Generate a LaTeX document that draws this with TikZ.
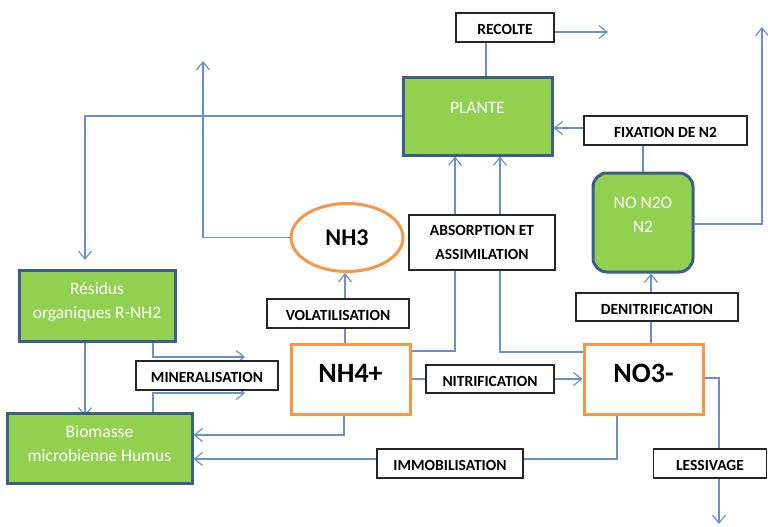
\documentclass[tikz,border=0pt]{standalone}
\usepackage{fontspec}
\setmainfont{Carlito}
\usetikzlibrary{arrows.meta,backgrounds,shapes.geometric,calc}
\definecolor{lblue}{RGB}{104,145,204}
\definecolor{gfill}{RGB}{146,208,80}
\definecolor{dblue}{RGB}{59,94,140}
\definecolor{orng}{RGB}{247,150,70}
\begin{document}
\begin{tikzpicture}[x=1pt,y=-1pt,
  conn/.style={draw=lblue,line width=1.2pt},
  arr/.style={conn,-{Straight Barb[length=8pt,width=13pt,line width=1.2pt]}},
  labbase/.style={draw=black!85,line width=1.1pt,fill=white,inner sep=0pt,font=\bfseries\fontsize{15.5}{18}\selectfont},
  lab/.style={labbase,text height=14pt,text depth=0pt},
  gbox/.style={draw=dblue,line width=3pt,fill=gfill,inner sep=0pt},
  obox/.style={draw=orng,line width=3pt,fill=white,inner sep=0pt},
  wtxt/.style={text=white,font=\fontsize{17.5}{24}\selectfont,align=center,inner sep=0pt},
  btxt/.style={text=black,font=\bfseries\fontsize{28}{30}\selectfont,inner sep=0pt}]
\useasboundingbox (0,0) rectangle (768,527);
% boxes
\node[lab,minimum width=98pt,minimum height=29pt] (recolte) at (505,27.5) {RECOLTE};
\node[gbox,minimum width=149pt,minimum height=78pt] (plante) at (477.5,116) {};
\node[wtxt] (planteT) at ([yshift=8pt]plante.center) {PLANTE};
\node[lab,minimum width=163pt,minimum height=29pt] (fix) at (665.5,130.5) {FIXATION DE N2};
\node[gbox,rounded corners=14pt,minimum width=100pt,minimum height=99pt] (nono) at (643,222.5) {};
\node[wtxt] (nonoT) at ([yshift=8pt]nono.center) {NO N2O\\N2};
\node[labbase,align=center,minimum width=146pt,minimum height=55pt,font=\bfseries\fontsize{15.5}{24}\selectfont] (abs) at (482,242.5) {ABSORPTION ET\\ASSIMILATION};
\node[ellipse,draw=orng,line width=3pt,fill=white,minimum width=112pt,minimum height=68pt,inner sep=0pt] (nh3) at (347,237.5) {};
\node[btxt,font=\bfseries\fontsize{24}{28}\selectfont] (nh3T) at (nh3.center) {NH3};
\node[gbox,minimum width=156pt,minimum height=71pt] (res) at (97,305.5) {};
\node[wtxt] (resT) at ([yshift=4pt]res.center) {Résidus\\organiques R-NH2};
\node[lab,minimum width=142pt,minimum height=29pt] (vol) at (338,313.5) {VOLATILISATION};
\node[obox,minimum width=119pt,minimum height=70pt] (nh4) at (350.5,379) {};
\node[btxt] (nh4T) at ([yshift=6pt]nh4.center) {NH4+};
\node[obox,minimum width=119pt,minimum height=70pt] (no3) at (643.5,379) {};
\node[btxt] (no3T) at ([yshift=6pt]no3.center) {NO3-};
\node[lab,minimum width=162pt,minimum height=28pt] (den) at (657,307) {DENITRIFICATION};
\node[lab,minimum width=142pt,minimum height=29pt] (min) at (207,375.5) {MINERALISATION};
\node[lab,minimum width=128pt,minimum height=28pt] (nit) at (490,379) {NITRIFICATION};
\node[gbox,minimum width=185pt,minimum height=70pt] (bio) at (99.5,448) {};
\node[wtxt] (bioT) at ([yshift=4pt]bio.center) {Biomasse\\microbienne Humus};
\node[lab,minimum width=146pt,minimum height=29pt] (imm) at (450,463.5) {IMMOBILISATION};
\node[lab,minimum width=113pt,minimum height=29pt] (les) at (710,463.5) {LESSIVAGE};
% free ends
\coordinate (recEnd) at (608,32);
\coordinate (n2turn) at (762,224);
\coordinate (n2End) at (762,27);
\coordinate (a1) at (455,351);
\coordinate (a2) at (500,352);
\coordinate (nh3turn) at (203,237.5);
\coordinate (nh3End) at (203,61);
\coordinate (plturn) at (85,116);
\coordinate (plEnd) at (85,260);
\coordinate (m1) at (153,357);
\coordinate (m1End) at (245,357);
\coordinate (m2) at (153,393);
\coordinate (m2End) at (245,393);
\coordinate (nb) at (344,435);
\coordinate (ib) at (617,459);
\coordinate (lturn) at (719,378);
\coordinate (lEnd) at (719,524);
\begin{scope}[on background layer]
\draw[arr] (recolte.east |- recEnd) -- (recEnd);
\draw[conn] ([xshift=-19pt]recolte.south) -- ([xshift=-19pt]recolte.south |- plante.north);
\draw[arr] ([yshift=2.5pt]fix.west) -- ([yshift=2.5pt]fix.west -| plante.east);
\draw[conn] (nono.north |- fix.south) -- (nono.north);
\draw[arr] (nono.east |- n2turn) -- (n2turn) -- (n2End);
\draw[arr] (a1 -| nh4.east) -- (a1) -- (a1 |- plante.south);
\draw[arr] (a2 -| no3.west) -- (a2) -- (a2 |- plante.south);
\draw[arr] (nh3.west) -- (nh3turn) -- (nh3End);
\draw[arr] (plante.west) -- (plturn) -- (plEnd);
\draw[arr] ([xshift=-5.5pt]nh4.north) -- ([xshift=-5.5pt]nh4.north |- nh3.south);
\draw[arr] (res.south -| plturn) -- ([yshift=-5pt]bio.north -| plturn);
\draw[arr] (m1 |- res.south) -- (m1) -- (m1End);
\draw[arr] (m2 |- bio.north) -- (m2) -- (m2End);
\draw[arr] ([yshift=4pt]nb |- nh4.south) -- (nb) -- (nb -| bio.east);
\draw[conn] (ib |- no3.south) -- (ib) -- (ib -| imm.east);
\draw[arr] (ib -| imm.west) -- (ib -| bio.east);
\draw[conn] (nh4.east) -- (nit.west);
\draw[arr] (nit.east) -- (no3.west);
\draw[arr] ([xshift=7.5pt]no3.north) -- ([xshift=7.5pt]no3.north |- nono.south);
\draw[arr] (no3.east |- lturn) -- (lturn) -- (lEnd);
\end{scope}
\end{tikzpicture}
\end{document}
